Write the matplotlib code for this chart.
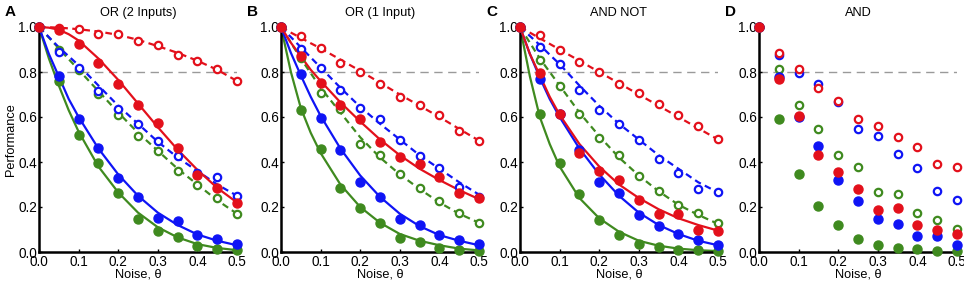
import matplotlib.pyplot as plt

plt.rcParams['font.family'] = ['Liberation Sans', 'DejaVu Sans']

RED = '#e3101b'
BLUE = '#0f14f5'
GREEN = '#3f8a1f'

noise = [0.0, 0.05, 0.1, 0.15, 0.2, 0.25, 0.3, 0.35, 0.4, 0.45, 0.5]
curve_x = [0.0, 0.025, 0.05, 0.075, 0.1, 0.15, 0.2, 0.25, 0.3, 0.35, 0.4, 0.45, 0.5]

titles = ['OR (2 Inputs)', 'OR (1 Input)', 'AND NOT', 'AND']
letters = ['A', 'B', 'C', 'D']

# --- measured points (filled = solid fit, open = dashed fit) ---
a_red_fill = [1.0, 0.985, 0.926, 0.841, 0.748, 0.655, 0.573, 0.462, 0.344, 0.284, 0.219]
a_red_open = [1.0, 0.997, 0.99, 0.97, 0.967, 0.938, 0.918, 0.874, 0.847, 0.813, 0.758]
a_blue_fill = [1.0, 0.784, 0.59, 0.462, 0.329, 0.244, 0.153, 0.136, 0.077, 0.056, 0.034]
a_blue_open = [1.0, 0.889, 0.816, 0.714, 0.634, 0.57, 0.492, 0.427, 0.35, 0.332, 0.25]
a_green_fill = [1.0, 0.759, 0.519, 0.397, 0.264, 0.148, 0.092, 0.067, 0.027, 0.015, 0.007]
a_green_open = [1.0, 0.9, 0.81, 0.704, 0.607, 0.514, 0.447, 0.359, 0.296, 0.24, 0.17]

b_red_fill = [1.0, 0.871, 0.751, 0.652, 0.593, 0.489, 0.422, 0.393, 0.333, 0.264, 0.241]
b_red_open = [1.0, 0.959, 0.908, 0.841, 0.8, 0.745, 0.689, 0.655, 0.607, 0.538, 0.492]
b_blue_fill = [1.0, 0.79, 0.597, 0.452, 0.311, 0.244, 0.145, 0.121, 0.077, 0.052, 0.034]
b_blue_open = [1.0, 0.901, 0.818, 0.721, 0.64, 0.59, 0.499, 0.425, 0.375, 0.289, 0.245]
b_green_fill = [1.0, 0.633, 0.456, 0.286, 0.196, 0.129, 0.064, 0.044, 0.018, 0.01, 0.004]
b_green_open = [1.0, 0.864, 0.707, 0.637, 0.481, 0.43, 0.348, 0.284, 0.225, 0.175, 0.129]

c_red_fill = [1.0, 0.796, 0.615, 0.441, 0.359, 0.321, 0.233, 0.167, 0.167, 0.099, 0.093]
c_red_open = [1.0, 0.963, 0.899, 0.844, 0.8, 0.745, 0.707, 0.659, 0.607, 0.56, 0.504]
c_blue_fill = [1.0, 0.769, 0.612, 0.452, 0.311, 0.262, 0.163, 0.116, 0.081, 0.052, 0.03]
c_blue_open = [1.0, 0.911, 0.837, 0.721, 0.63, 0.57, 0.496, 0.415, 0.351, 0.281, 0.267]
c_green_fill = [1.0, 0.615, 0.396, 0.259, 0.141, 0.074, 0.037, 0.022, 0.01, 0.007, 0.004]
c_green_open = [1.0, 0.852, 0.738, 0.615, 0.508, 0.433, 0.336, 0.271, 0.207, 0.173, 0.129]

d_red_fill = [1.0, 0.77, 0.603, 0.43, 0.356, 0.281, 0.185, 0.197, 0.119, 0.096, 0.081]
d_red_open = [1.0, 0.884, 0.812, 0.73, 0.67, 0.59, 0.56, 0.511, 0.467, 0.39, 0.378]
d_blue_fill = [1.0, 0.778, 0.6, 0.471, 0.321, 0.227, 0.148, 0.123, 0.07, 0.07, 0.03]
d_blue_open = [1.0, 0.874, 0.796, 0.748, 0.667, 0.548, 0.514, 0.434, 0.373, 0.271, 0.23]
d_green_fill = [1.0, 0.59, 0.345, 0.203, 0.119, 0.059, 0.033, 0.019, 0.015, 0.004, 0.004]
d_green_open = [1.0, 0.812, 0.652, 0.548, 0.43, 0.378, 0.267, 0.259, 0.175, 0.144, 0.104]

# --- fitted curves (panel D has none) ---
a_red_sol = [1.0, 0.997, 0.988, 0.968, 0.94, 0.86, 0.765, 0.66, 0.555, 0.455, 0.365, 0.285, 0.22]
a_red_dash = [1.0, 0.999, 0.997, 0.994, 0.99, 0.98, 0.965, 0.943, 0.915, 0.885, 0.85, 0.81, 0.76]
a_blue_sol = [1.0, 0.88, 0.78, 0.68, 0.6, 0.46, 0.345, 0.25, 0.175, 0.12, 0.078, 0.05, 0.03]
a_blue_dash = [1.0, 0.955, 0.91, 0.87, 0.83, 0.74, 0.65, 0.57, 0.49, 0.42, 0.36, 0.3, 0.25]
a_green_sol = [1.0, 0.86, 0.74, 0.63, 0.535, 0.38, 0.265, 0.175, 0.11, 0.065, 0.035, 0.018, 0.008]
a_green_dash = [1.0, 0.953, 0.905, 0.857, 0.81, 0.715, 0.62, 0.53, 0.45, 0.37, 0.3, 0.23, 0.17]

b_red_sol = [1.0, 0.93, 0.87, 0.81, 0.76, 0.665, 0.58, 0.5, 0.43, 0.37, 0.32, 0.275, 0.235]
b_red_dash = [1.0, 0.975, 0.952, 0.928, 0.905, 0.855, 0.805, 0.752, 0.7, 0.65, 0.6, 0.547, 0.495]
b_blue_sol = [1.0, 0.885, 0.785, 0.69, 0.605, 0.46, 0.34, 0.245, 0.17, 0.115, 0.075, 0.05, 0.03]
b_blue_dash = [1.0, 0.955, 0.91, 0.865, 0.82, 0.73, 0.645, 0.57, 0.5, 0.43, 0.37, 0.31, 0.255]
b_green_sol = [1.0, 0.8, 0.64, 0.53, 0.44, 0.3, 0.2, 0.13, 0.08, 0.05, 0.03, 0.015, 0.007]
b_green_dash = [1.0, 0.93, 0.86, 0.795, 0.73, 0.62, 0.51, 0.42, 0.345, 0.28, 0.22, 0.17, 0.13]

c_red_sol = [1.0, 0.88, 0.785, 0.69, 0.61, 0.48, 0.38, 0.3, 0.24, 0.19, 0.15, 0.12, 0.095]
c_red_dash = [1.0, 0.975, 0.95, 0.925, 0.9, 0.85, 0.8, 0.75, 0.7, 0.65, 0.6, 0.55, 0.5]
c_blue_sol = [1.0, 0.88, 0.775, 0.68, 0.6, 0.46, 0.345, 0.25, 0.175, 0.12, 0.08, 0.05, 0.03]
c_blue_dash = [1.0, 0.96, 0.92, 0.877, 0.835, 0.74, 0.65, 0.57, 0.5, 0.43, 0.37, 0.31, 0.265]
c_green_sol = [1.0, 0.78, 0.6, 0.48, 0.38, 0.24, 0.15, 0.09, 0.05, 0.028, 0.015, 0.008, 0.004]
c_green_dash = [1.0, 0.93, 0.86, 0.8, 0.74, 0.62, 0.515, 0.42, 0.34, 0.27, 0.21, 0.165, 0.125]

threshold = 0.8

points = [
    (a_red_fill, a_red_open, a_blue_fill, a_blue_open, a_green_fill, a_green_open),
    (b_red_fill, b_red_open, b_blue_fill, b_blue_open, b_green_fill, b_green_open),
    (c_red_fill, c_red_open, c_blue_fill, c_blue_open, c_green_fill, c_green_open),
    (d_red_fill, d_red_open, d_blue_fill, d_blue_open, d_green_fill, d_green_open),
]
curves = [
    (a_red_sol, a_red_dash, a_blue_sol, a_blue_dash, a_green_sol, a_green_dash),
    (b_red_sol, b_red_dash, b_blue_sol, b_blue_dash, b_green_sol, b_green_dash),
    (c_red_sol, c_red_dash, c_blue_sol, c_blue_dash, c_green_sol, c_green_dash),
    None,
]

fig = plt.figure(figsize=(9.64, 2.85), dpi=100)
lefts = [39, 281, 520, 759]

for i in range(4):
    ax = fig.add_axes([lefts[i] / 964, 33 / 285, 198 / 964, 225 / 285])
    ax.plot([0, 0.5], [threshold, threshold], color='#9a9a9a', lw=1, dashes=(6, 4), zorder=1)

    if curves[i] is not None:
        rs, rd, bs, bd, gs, gd = curves[i]
        for ys, col, z in [(gs, GREEN, 2), (bs, BLUE, 3), (rs, RED, 4)]:
            ax.plot(curve_x, ys, color=col, lw=1.6, zorder=z, clip_on=False)
        for ys, col, z in [(gd, GREEN, 2), (bd, BLUE, 3), (rd, RED, 4)]:
            ax.plot(curve_x, ys, color=col, lw=1.6, dashes=(3, 2), zorder=z, clip_on=False)

    rf, ro, bf, bo, gf, go = points[i]
    for ys, col, z in [(go, GREEN, 5), (bo, BLUE, 6), (ro, RED, 7)]:
        ax.plot(noise, ys, 'o', ms=5.3, mfc='white', mec=col, mew=1.6, ls='none',
                zorder=z, clip_on=False)
    for ys, col, z in [(gf, GREEN, 8), (bf, BLUE, 9), (rf, RED, 10)]:
        ax.plot(noise, ys, 'o', ms=6.5, color=col, ls='none', zorder=z, clip_on=False)

    ax.set_xlim(0, 0.5)
    ax.set_ylim(0, 1)
    ax.set_xticks([0, 0.1, 0.2, 0.3, 0.4, 0.5])
    ax.set_yticks([0, 0.2, 0.4, 0.6, 0.8, 1.0])
    ax.set_xticklabels(['0.0', '0.1', '0.2', '0.3', '0.4', '0.5'])
    ax.set_yticklabels(['0.0', '0.2', '0.4', '0.6', '0.8', '1.0'])
    ax.tick_params(direction='in', length=2.5, width=1, labelsize=9.8)
    ax.tick_params(axis='x', pad=2)
    ax.tick_params(axis='y', pad=1.5)
    for side in ['top', 'right']:
        ax.spines[side].set_visible(False)
    for side in ['left', 'bottom']:
        ax.spines[side].set_linewidth(1.8)
    ax.set_xlabel('Noise, θ', fontsize=9.2, labelpad=0)
    if i == 0:
        ax.set_ylabel('Performance', fontsize=9.2, labelpad=1)
    ax.set_title(titles[i], fontsize=9.2, pad=8)
    ax.text(-34 / 198, 1 + 15 / 225, letters[i], transform=ax.transAxes, fontsize=11,
            fontweight='bold', ha='left', va='center')

fig.savefig('out.png', dpi=100)
